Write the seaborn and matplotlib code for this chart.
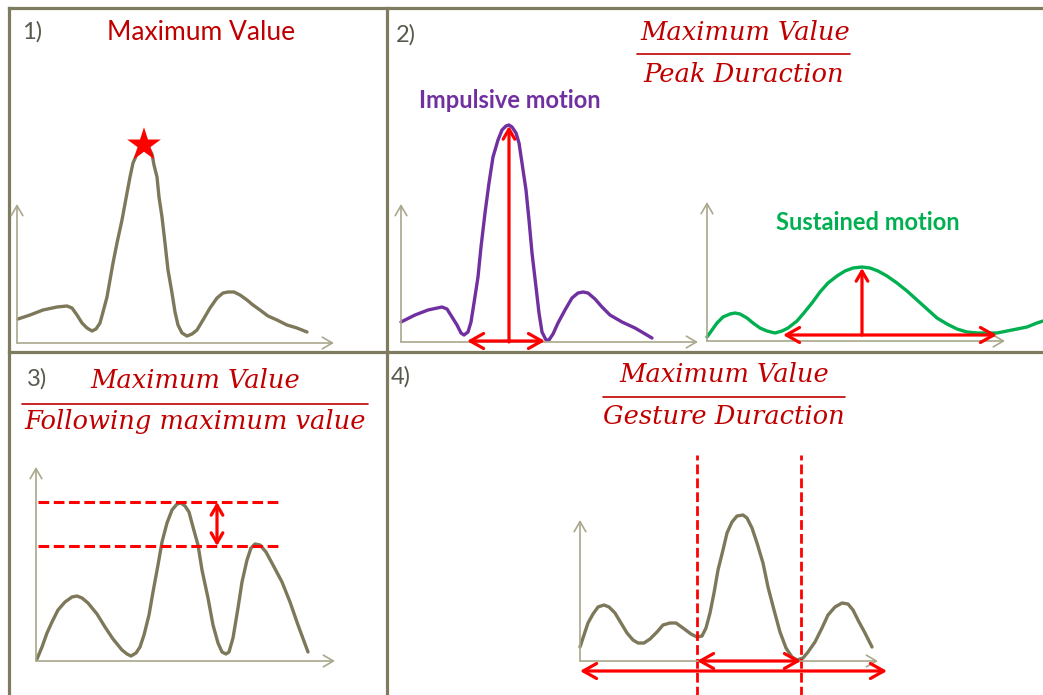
import seaborn as sns
import matplotlib.pyplot as plt

W, H = 1043, 695

# curves; x = offset from the chart's y axis, y = height above its x axis
p1_x = [1, 13, 26, 40, 50, 55, 60, 65, 70, 75, 79, 83, 86, 90, 93, 96, 100, 105, 110, 113,
        116, 120, 124, 127, 131, 135, 137, 140, 142, 145, 148, 151, 155, 158, 161, 165, 170, 175,
        180, 186, 193, 200, 206, 211, 217, 223, 230, 236, 243, 251, 260, 270, 280, 290]
p1_y = [24, 28, 33, 36, 37, 35, 28, 20, 15, 12, 14, 20, 31, 46, 63, 80, 100, 123, 150, 166,
        180, 189, 196, 198, 196, 189, 178, 166, 146, 126, 100, 73, 50, 31, 18, 10, 7, 9,
        13, 23, 35, 45, 50, 51, 51, 48, 43, 38, 33, 27, 23, 18, 15, 11]
p1_peak = (127, 198)

imp_x = [0, 14, 27, 41, 46, 51, 56, 60, 63, 67, 70, 73, 77, 80, 84, 88, 92, 97, 101, 105,
         108, 111, 115, 118, 121, 125, 128, 131, 135, 138, 141, 145, 148, 152, 157, 164, 171, 177,
         182, 187, 194, 201, 209, 221, 234, 251]
imp_y = [20, 27, 32, 35, 33, 25, 17, 9, 7, 10, 20, 39, 65, 95, 129, 159, 185, 202, 212, 216,
         217, 215, 209, 199, 179, 152, 122, 89, 55, 29, 10, 2, 2, 8, 19, 32, 44, 49,
         50, 49, 43, 35, 27, 20, 14, 4]
imp_peak = (108, 216)
imp_span = (66, 144)

sus_x = [0, 5, 10, 16, 23, 28, 33, 40, 46, 53, 60, 68, 75, 81, 90, 96, 105, 113, 121, 130,
         138, 146, 155, 163, 171, 180, 190, 200, 210, 220, 230, 240, 250, 260, 270, 280, 290, 300,
         310, 320, 330, 336]
sus_y = [4, 11, 18, 24, 27, 28, 27, 23, 18, 13, 10, 8, 10, 13, 20, 27, 38, 49, 58, 65,
         70, 73, 74, 73, 70, 65, 58, 50, 41, 32, 23, 17, 12, 9, 8, 8, 8, 10,
         12, 14, 18, 20]
sus_peak = (155, 73)
sus_span = (76, 290)

p3_x = [1, 6, 11, 16, 22, 29, 36, 41, 46, 52, 61, 69, 77, 86, 91, 95, 100, 104, 108, 113,
        117, 122, 126, 131, 136, 141, 145, 149, 153, 157, 162, 166, 172, 177, 182, 186, 190, 193,
        197, 202, 206, 211, 215, 219, 224, 230, 237, 246, 254, 262, 272]
p3_y = [2, 14, 28, 39, 51, 59, 64, 65, 63, 58, 47, 34, 22, 11, 7, 5, 8, 14, 26, 46,
        69, 96, 119, 138, 151, 157, 158, 155, 149, 134, 116, 91, 63, 36, 18, 9, 7, 9,
        23, 53, 79, 101, 113, 117, 116, 109, 96, 79, 59, 36, 9]
p3_levels = [159, 115]   # maximum, following maximum
p3_gap_x = 181

p4_x = [0, 4, 8, 13, 18, 24, 29, 35, 41, 47, 53, 58, 64, 70, 77, 83, 90, 96, 103, 111,
        117, 122, 126, 130, 134, 138, 143, 147, 152, 157, 163, 167, 172, 177, 183, 188, 194, 200,
        206, 212, 217, 223, 228, 235, 242, 248, 255, 262, 268, 273, 279, 285, 292]
p4_y = [14, 26, 38, 47, 54, 56, 54, 48, 38, 28, 21, 18, 18, 22, 29, 36, 38, 38, 33, 27,
        24, 25, 33, 48, 68, 91, 111, 128, 139, 145, 146, 143, 133, 118, 98, 74, 51, 29,
        13, 4, 1, 3, 9, 19, 33, 46, 54, 58, 57, 51, 39, 28, 14]
p4_bounds = [117, 221]   # gesture start / end
p4_total = (0, 307)

OLIVE = '#7d785a'
FRAME = '#7f7b5e'
AXC = '#aaa78c'
RED = '#ff0000'
DARKRED = '#c00000'
LABEL = '#5a5a4c'

sns.set_theme(style='white')
plt.rcParams['font.family'] = ['Lato', 'DejaVu Sans']

fig = plt.figure(figsize=(W / 100, H / 100), dpi=100)
base = fig.add_axes([0, 0, 1, 1])
base.set_xlim(0, W)
base.set_ylim(H, 0)
base.axis('off')

# panel frame
for x0, y0, x1, y1 in [(9, 8, W, 8), (9, 8, 9, H), (387, 8, 387, H), (9, 352, W, 352)]:
    base.plot([x0, x1], [y0, y1], color=FRAME, lw=2.3, solid_capstyle='projecting')


def chart(ox, oy, xlen, ylen):
    ax = fig.add_axes([0, 0, 1, 1])
    ax.patch.set_alpha(0)
    ax.axis('off')
    for tip in [(xlen, 0), (0, ylen)]:
        ax.annotate('', xy=tip, xytext=(0, 0),
                    arrowprops=dict(arrowstyle='->,head_length=0.6,head_width=0.35', color=AXC,
                                    lw=1.2, shrinkA=0, shrinkB=0))
    return ax, (ox, oy)


def fix(ax, origin):
    ox, oy = origin
    ax.set_xlim(-ox, W - ox)
    ax.set_ylim(-(H - oy), oy)
    ax.axis('off')


def red_arrow(ax, a, b, style='<->', hl=0.8, hw=0.45):
    ax.annotate('', xy=b, xytext=a,
                arrowprops=dict(arrowstyle=f'{style},head_length={hl},head_width={hw}',
                                color=RED, lw=2.3, shrinkA=0, shrinkB=0))


def curve(ax, x, y, color):
    sns.lineplot(x=x, y=y, ax=ax, sort=False, color=color, linewidth=2.4,
                 solid_joinstyle='round', solid_capstyle='round')


# 1) maximum value
ax1, o1 = chart(17, 343, 317, 139)
curve(ax1, p1_x, p1_y, OLIVE)
sns.scatterplot(x=[p1_peak[0]], y=[p1_peak[1]], ax=ax1, marker='*', s=650, color=RED,
                edgecolor='none', zorder=5)
fix(ax1, o1)

# 2) impulsive vs sustained
ax2, o2 = chart(401, 342, 297, 138)
curve(ax2, imp_x, imp_y, '#7030a0')
red_arrow(ax2, (imp_peak[0], 0), imp_peak, style='->', hl=0.6, hw=0.35)
red_arrow(ax2, (imp_span[0], 1), (imp_span[1], 1))
fix(ax2, o2)

ax3, o3 = chart(707, 341, 298, 139)
curve(ax3, sus_x, sus_y, '#00b050')
red_arrow(ax3, (sus_peak[0], 6), sus_peak, style='->', hl=0.6, hw=0.35)
red_arrow(ax3, (sus_span[0], 6), (sus_span[1], 6))
fix(ax3, o3)

# 3) maximum vs following maximum
ax4, o4 = chart(36, 661, 299, 194)
curve(ax4, p3_x, p3_y, OLIVE)
ax4.hlines(p3_levels, 2, 246, colors=RED, lw=2.2, linestyles=(0, (3.5, 1.5)))
red_arrow(ax4, (p3_gap_x, p3_levels[1]), (p3_gap_x, p3_levels[0]), hl=0.6, hw=0.35)
fix(ax4, o4)

# 4) gesture duration
ax5, o5 = chart(580, 661, 298, 141)
curve(ax5, p4_x, p4_y, OLIVE)
ax5.vlines(p4_bounds, -40, 206, colors=RED, lw=2.0, linestyles=(0, (3.5, 1.5)))
red_arrow(ax5, (p4_bounds[0], 0), (p4_bounds[1], 0))
red_arrow(ax5, (p4_total[0], -10), (p4_total[1], -10))
fix(ax5, o5)

# labels and titles
for lab, x, y in [('1)', 22, 32), ('2)', 396, 35), ('3)', 27, 379), ('4)', 391, 377)]:
    base.text(x, y, lab, color=LABEL, fontsize=17, ha='left', va='center')

base.text(201, 32, 'Maximum Value', color=DARKRED, fontsize=19, ha='center', va='center')
base.text(510, 101, 'Impulsive motion', color='#7030a0', fontsize=17, fontweight='bold',
          ha='center', va='center')
base.text(868, 223, 'Sustained motion', color='#00b050', fontsize=17, fontweight='bold',
          ha='center', va='center')

serif = dict(color=DARKRED, family='DejaVu Serif', style='italic', ha='center', va='center')
for num, den, cx, yn, yl, yd, x0, x1, fs in [
        ('Maximum Value', 'Peak Duraction', 745, 33, 54, 74, 637, 850, 18.5),
        ('Maximum Value', 'Following maximum value', 195, 381, 404, 422, 22, 368, 18.5),
        ('Maximum Value', 'Gesture Duraction', 724, 374, 397, 416, 603, 845, 18.5)]:
    base.text(cx, yn, num, fontsize=fs, **serif)
    base.plot([x0, x1], [yl, yl], color=DARKRED, lw=1.2)
    base.text((x0 + x1) / 2, yd, den, fontsize=fs, **serif)

fig.savefig('out.png', dpi=100)
